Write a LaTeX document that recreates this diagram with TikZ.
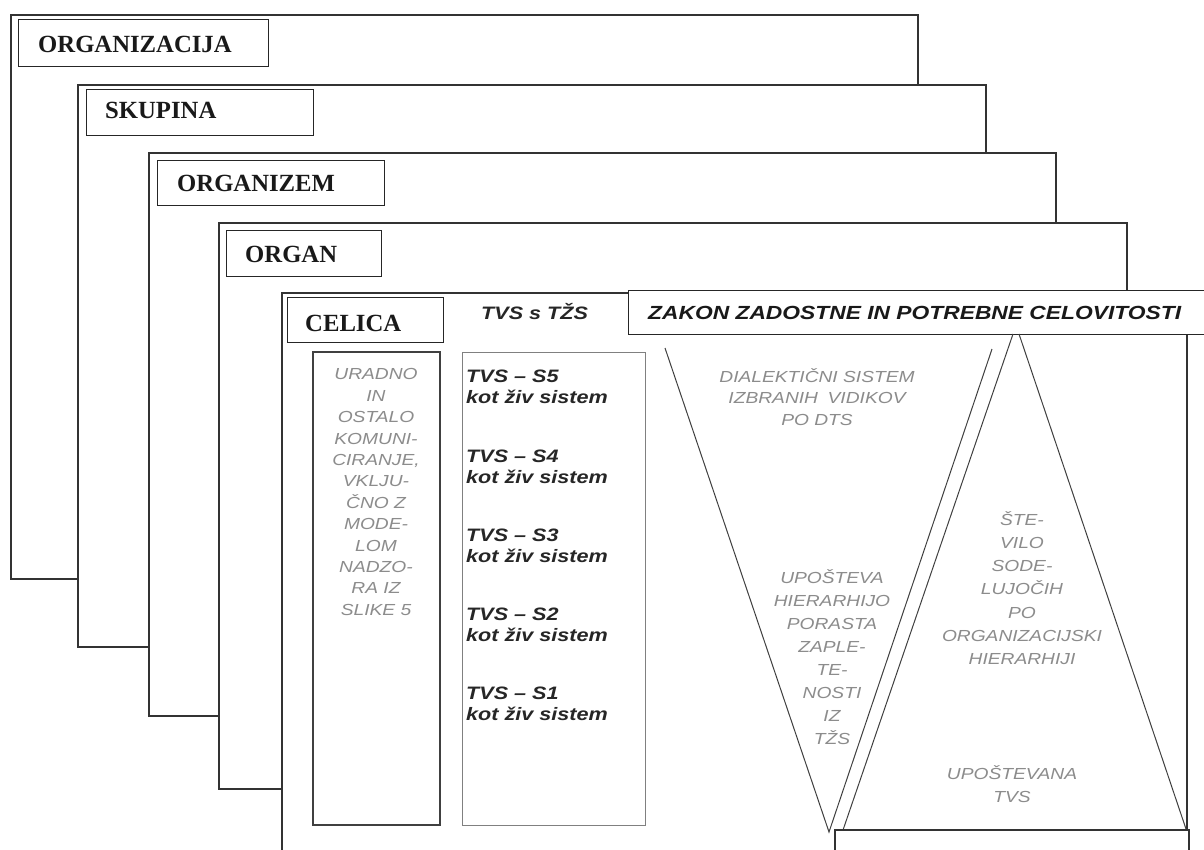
\documentclass[tikz,border=0pt]{standalone}
\usepackage{fontspec}
\setmainfont{Liberation Serif}
\newfontfamily\sfw[FakeStretch=1.2]{Liberation Sans}
\tikzset{
  frame/.style={draw=black!80, line width=1.2pt, fill=white},
  labbox/.style={draw=black!85, line width=1.2pt, fill=white, anchor=north west, inner sep=0pt},
  labtext/.style={anchor=base west, inner sep=0pt, text=black!90, font=\fontsize{24.7}{28}\selectfont\bfseries},
  tvs/.style={anchor=base west, inner sep=0pt, text=black!85, font=\sfw\fontsize{18}{20}\selectfont\bfseries\itshape},
  greytext/.style={inner sep=0pt, text=black!45, align=center, font=\sfw\fontsize{16}{21.4}\selectfont\itshape},
  tri/.style={draw=black!75, line width=1pt},
}
\begin{document}
\begin{tikzpicture}[x=1pt, y=-1pt]
\useasboundingbox (0,0) rectangle (1204,849);
\clip (0,0) rectangle (1204,849);
\fill[white] (0,0) rectangle (1204,849);

% stacked frames
\draw[frame] (11,15) rectangle (918,579);
\node[labbox, minimum width=250pt, minimum height=47pt] (l1) at (18,19) {};
\node[labtext] (t1) at (38,52) {ORGANIZACIJA};

\draw[frame] (78,85) rectangle (986,647);
\node[labbox, minimum width=227pt, minimum height=46pt] (l2) at (86,89) {};
\node[labtext] (t2) at (105,118) {SKUPINA};

\draw[frame] (149,153) rectangle (1056,716);
\node[labbox, minimum width=227pt, minimum height=45pt] (l3) at (157,160) {};
\node[labtext] (t3) at (177,191) {ORGANIZEM};

\draw[frame] (219,223) rectangle (1127,789);
\node[labbox, minimum width=155pt, minimum height=46pt] (l4) at (226,230) {};
\node[labtext] (t4) at (245,262) {ORGAN};

\draw[frame] (282,293) rectangle (1187,870);
\node[labbox, minimum width=156pt, minimum height=45pt] (l5) at (287,297) {};
\node[labtext] (t5) at (305,331) {CELICA};

% title box
\node[labbox, minimum width=590pt, minimum height=44pt] (zk) at (628,290) {};
\node[anchor=base west, inner sep=0pt, text=black!90, font=\sfw\fontsize{19}{21}\selectfont\bfseries\itshape] (zkt) at (648,319) {ZAKON ZADOSTNE IN POTREBNE CELOVITOSTI};

% TVS s TZS heading
\node[tvs] (head) at (481,319) {TVS s TŽS};

% left column box
\draw[draw=black!75, line width=1.1pt] (313,352) rectangle (440,825);
\node[greytext] (urad) at (376,492) {URADNO\\IN\\OSTALO\\KOMUNI-\\CIRANJE,\\VKLJU-\\ČNO Z\\MODE-\\LOM\\NADZO-\\RA IZ\\SLIKE 5};

% TVS column box
\draw[draw=black!50, line width=1pt] (462,352) rectangle (645,825);
\node[tvs] (s5) at (466,382) {TVS – S5};
\node[tvs] (k5) at (466,403) {kot živ sistem};
\node[tvs] (s4) at (466,462) {TVS – S4};
\node[tvs] (k4) at (466,483) {kot živ sistem};
\node[tvs] (s3) at (466,541) {TVS – S3};
\node[tvs] (k3) at (466,562) {kot živ sistem};
\node[tvs] (s2) at (466,620) {TVS – S2};
\node[tvs] (k2) at (466,641) {kot živ sistem};
\node[tvs] (s1) at (466,699) {TVS – S1};
\node[tvs] (k1) at (466,720) {kot živ sistem};

% inverted triangle
\coordinate (va) at (665,348);
\coordinate (vb) at (992,349);
\coordinate (vc) at (829,832);
\draw[tri] (va) -- (vc) -- (vb);

% upright triangle
\coordinate (ua1) at (1013,334);
\coordinate (ua2) at (1019,334);
\coordinate (ub1) at (843,830);
\coordinate (ub2) at (1186,829);
\draw[tri] (ua1) -- (ub1);
\draw[tri] (ua2) -- (ub2);

% bottom box
\draw[frame] (835,830) rectangle (1189,875);

% triangle texts
\node[greytext] (dial) at (817,397) {DIALEKTIČNI SISTEM\\IZBRANIH\hspace{0.6em}VIDIKOV\\PO DTS};
\node[greytext, font=\sfw\fontsize{16}{23}\selectfont\itshape] (upo) at (832,657) {UPOŠTEVA\\HIERARHIJO\\PORASTA\\ZAPLE-\\TE-\\NOSTI\\IZ\\TŽS};
\node[greytext, font=\sfw\fontsize{16}{23.2}\selectfont\itshape] (ste) at (1022,588) {ŠTE-\\VILO\\SODE-\\LUJOČIH\\PO\\ORGANIZACIJSKI\\HIERARHIJI};
\node[greytext, font=\sfw\fontsize{16}{23}\selectfont\itshape] (uptvs) at (1012,784) {UPOŠTEVANA\\TVS};
\end{tikzpicture}
\end{document}
